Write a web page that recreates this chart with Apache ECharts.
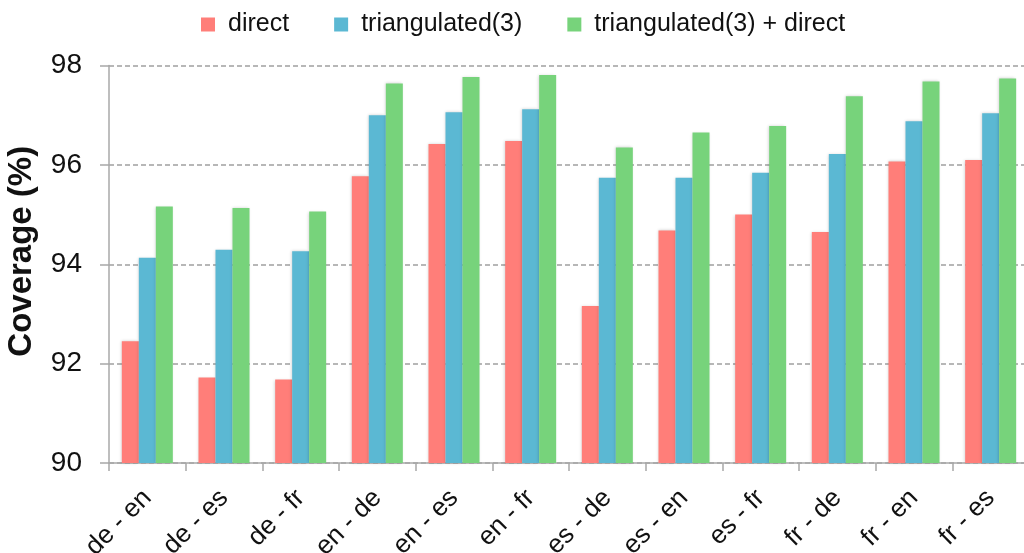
<!DOCTYPE html>
<html>
<head>
<meta charset="utf-8">
<script src="https://cdn.jsdelivr.net/npm/echarts@6/dist/echarts.min.js"></script>
<style>
html,body{margin:0;padding:0;background:#fff;}
#c{width:1024px;height:553px;}
</style>
</head>
<body>
<div id="c"></div>
<script>
const categories = ['de - en','de - es','de - fr','en - de','en - es','en - fr','es - de','es - en','es - fr','fr - de','fr - en','fr - es'];
const direct = [92.45, 91.72, 91.68, 95.77, 96.42, 96.48, 93.16, 94.68, 95.00, 94.65, 96.07, 96.10];
const triangulated = [94.13, 94.29, 94.26, 97.00, 97.06, 97.12, 95.74, 95.74, 95.84, 96.22, 96.88, 97.04];
const combined = [95.16, 95.13, 95.06, 97.64, 97.77, 97.81, 96.35, 96.65, 96.78, 97.38, 97.68, 97.74];
const seriesNames = ['direct', 'triangulated(3)', 'triangulated(3) + direct'];
const colors = ['#FF7E79', '#5BB8D3', '#77D37B'];
const yTicks = {min: 90, max: 98, interval: 2};

const FONT = '"Helvetica Neue", Helvetica, "Liberation Sans", Arial, sans-serif';
const chart = echarts.init(document.getElementById('c'), null, {renderer: 'canvas'});

function mkSeries(name, data, color) {
  return {
    name: name,
    type: 'bar',
    data: data,
    barWidth: 17,
    barGap: '0%',
    itemStyle: {
      color: color,
      shadowColor: 'rgba(0,0,0,0.18)',
      shadowBlur: 3,
      shadowOffsetX: -1,
      shadowOffsetY: 0
    }
  };
}

chart.setOption({
  animation: false,
  color: colors,
  textStyle: {fontFamily: FONT},
  legend: {
    top: 7,
    left: 196,
    itemWidth: 14,
    itemHeight: 14,
    itemGap: 45,
    icon: 'rect',
    textStyle: {fontSize: 25, color: '#111', fontFamily: FONT, padding: [0, 0, 0, 8]},
    data: seriesNames
  },
  grid: {left: 109, top: 65.5, width: 920, bottom: 90, containLabel: false, outerBoundsMode: 'none'},
  xAxis: {
    type: 'category',
    data: categories,
    axisLine: {lineStyle: {color: '#a8a8a8', width: 1.5}},
    axisTick: {show: true, length: 8, alignWithLabel: false, lineStyle: {color: '#a8a8a8', width: 1.5}},
    axisLabel: {
      rotate: 45,
      margin: 31,
      fontSize: 26,
      color: '#111',
      fontFamily: FONT,
      interval: 0
    }
  },
  yAxis: {
    type: 'value',
    min: yTicks.min,
    max: yTicks.max,
    interval: yTicks.interval,
    name: 'Coverage (%)',
    nameLocation: 'middle',
    nameGap: 71,
    nameTextStyle: {fontSize: 33, fontWeight: 'bold', color: '#111', fontFamily: FONT, padding: [0, 0, 0, 26]},
    axisLine: {show: true, lineStyle: {color: '#a8a8a8', width: 1.5}},
    axisTick: {show: true, length: 9, lineStyle: {color: '#a8a8a8', width: 1.5}},
    axisLabel: {fontSize: 28, color: '#111', margin: 27, fontFamily: FONT},
    splitLine: {show: true, lineStyle: {color: '#a0a0a0', width: 1.5, type: [5, 3]}}
  },
  series: [
    mkSeries(seriesNames[0], direct, colors[0]),
    mkSeries(seriesNames[1], triangulated, colors[1]),
    mkSeries(seriesNames[2], combined, colors[2])
  ]
});
</script>
</body>
</html>
